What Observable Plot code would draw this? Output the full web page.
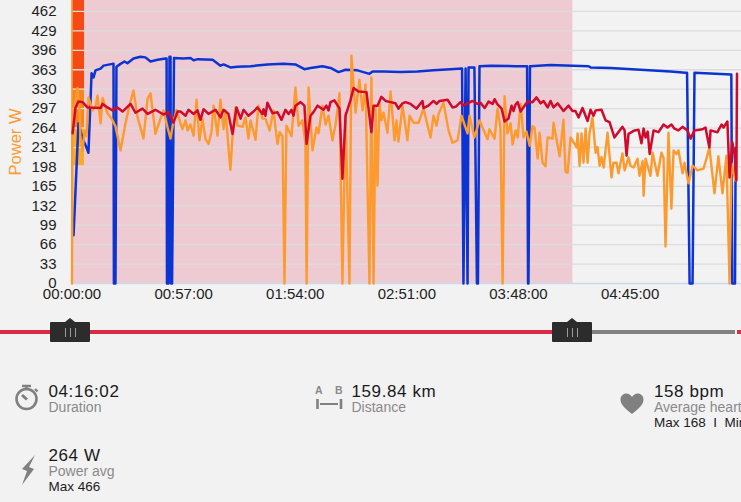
<!DOCTYPE html>
<html><head><meta charset="utf-8">
<script src="https://cdn.jsdelivr.net/npm/d3@7"></script>
<script src="https://cdn.jsdelivr.net/npm/@observablehq/plot@0.6"></script>
<style>
html,body{margin:0;padding:0;background:#f2f2f2;width:741px;height:502px;overflow:hidden;font-family:"Liberation Sans",sans-serif}
#chart{position:absolute;left:0;top:0}
#chart svg{background:transparent;display:block}
.bar{position:absolute;height:4px;top:329.5px}
.handle{position:absolute;top:322px;width:40px;height:20px;background:#2c2c2c;border-radius:1px}
.handle:before{content:"";position:absolute;left:15px;top:-4px;border-left:5px solid transparent;border-right:5px solid transparent;border-bottom:4px solid #2c2c2c}
.handle i{position:absolute;top:6px;width:1.4px;height:9px;background:#9a9a9a}
.stat{position:absolute;white-space:nowrap}
.big{position:absolute;left:0;top:0;font-size:17px;letter-spacing:.6px;color:#1a1a1a;line-height:20px}
.sub{position:absolute;left:0;top:17px;font-size:14px;color:#8a8a8a;line-height:17px}
.extra{position:absolute;left:0;top:33px;font-size:13.5px;color:#1c1c1c;line-height:16px}
.icon{position:absolute}
</style></head><body>
<div id="chart"></div>
<div class="bar" style="left:0;width:552px;background:#dc2a45"></div>
<div class="bar" style="left:592px;width:143px;background:#828282"></div>
<div class="bar" style="left:737px;width:4px;background:#dc2a45"></div>
<div class="handle" style="left:50px"><i style="left:15px"></i><i style="left:20px"></i><i style="left:25px"></i></div>
<div class="handle" style="left:552px"><i style="left:15px"></i><i style="left:20px"></i><i style="left:25px"></i></div>

<svg class="icon" style="left:14px;top:382px" width="26" height="30" viewBox="0 0 26 30"><g fill="none" stroke="#808080"><circle cx="12.5" cy="17" r="10" stroke-width="2.6"/><path d="M8 4h9M12.5 4v3M21 7l2.5 2.5" stroke-width="2.4"/><path d="M8 13l5 4.5" stroke-width="3"/></g></svg>
<div class="stat" style="left:48.5px;top:382px;width:200px"><div class="big">04:16:02</div><div class="sub">Duration</div></div>

<svg class="icon" style="left:20px;top:454px" width="18" height="32" viewBox="0 0 18 32"><path d="M15 1L2 15l5 2-5 14 12-16-5-2z" fill="#808080"/></svg>
<div class="stat" style="left:48.5px;top:446px;width:200px"><div class="big">264 W</div><div class="sub">Power avg</div><div class="extra">Max 466</div></div>

<svg class="icon" style="left:314px;top:384px" width="30" height="28" viewBox="0 0 30 28"><g fill="#8a8a8a" font-family="Liberation Sans" font-size="10.5" font-weight="bold"><text x="1" y="10">A</text><text x="21" y="10">B</text></g><path d="M3.5 15v10M27 15v10" stroke="#808080" stroke-width="2.6"/><path d="M6 20h18" stroke="#808080" stroke-width="2"/></svg>
<div class="stat" style="left:351.5px;top:382px;width:200px"><div class="big">159.84 km</div><div class="sub">Distance</div></div>

<svg class="icon" style="left:620px;top:393px" width="24" height="22" viewBox="0 0 24 22"><path d="M12 21C6 16 0.5 12 0.5 6.5 0.5 3 3.2 0.5 6.3 0.5 8.6 0.5 10.8 1.8 12 4 13.2 1.8 15.4 0.5 17.7 0.5 20.8 0.5 23.5 3 23.5 6.5 23.5 12 18 16 12 21z" fill="#808080"/></svg>
<div class="stat" style="left:654px;top:382px;width:200px"><div class="big">158 bpm</div><div class="sub">Average heart rate</div><div class="extra">Max 168&nbsp; I&nbsp; Min</div></div>

<script>
const yTicks = [0,33,66,99,132,165,198,231,264,297,330,363,396,429,462];
const xTicks = [0,57,114,171,228,285];
const xTickLabels = ["00:00:00","00:57:00","01:54:00","02:51:00","03:48:00","04:45:00"];
const xMax = 341.9, yMax = 480.6;
const sessionEnd = 255.8;
const blockStart = 0.2, blockEnd = 6.4;
const blockFrom = [200,264,330];
const blockTo = [264,330,481];
const blockColors = ["#f9ab2f","#f6861f","#f54a14"];

// [minutes, watts]
const speed = [[0.8,82],[3.3,272],[5.4,246],[6.9,235],[8.4,222],[10,357],[11,350],[12,362],[14.6,365],[16.1,370],[20.7,373],[21.2,373],[21.4,0],[22.2,0],[22.7,368],[24.8,373],[26.8,377],[28.3,374],[31.4,382],[35,385],[37.5,384],[40.1,377],[43.7,380],[47.8,382],[48.3,382],[48.5,0],[49.3,0],[49.8,385],[50.3,385],[50.6,0],[51.1,0],[52.1,383],[56.9,382],[60.5,383],[62.1,379],[64.1,381],[71.8,380],[75.8,370],[77.4,372],[80.9,367],[84.5,368],[91.2,369],[99.8,372],[108,373],[114.1,372],[118.7,364],[121.8,366],[127.9,369],[132,366],[136.1,359],[139.7,363],[145.8,362],[151.9,356],[153.5,360],[159.1,360],[167.8,359],[176.4,360],[184.6,362],[193.3,364],[199.2,365],[199.9,0],[201,365],[202,0],[202.5,367],[205.5,367],[206.8,0],[207.3,0],[208.1,369],[213.7,370],[226.5,369],[232.4,369],[232.9,0],[233.1,0],[233.9,369],[244.4,371],[255.6,370],[263.8,369],[264.8,367],[275,366],[290.3,363],[305.6,360],[313.3,358],[314.1,358],[315.4,0],[316.9,0],[317.9,358],[336.7,355],[337.2,0],[338.6,0],[338.9,230]];

const power = [[0,0],[0.2,270],[1.3,300],[2.8,332],[3.8,300],[4.3,250],[5.4,225],[6.4,260],[7.4,250],[8.4,316],[10.5,294],[12,300],[13,319],[14.6,272],[15.6,315],[18.1,289],[20.2,280],[22.2,267],[24.8,226],[27.3,272],[29.9,310],[31.4,328],[33.5,282],[36.5,246],[38.6,314],[40.1,323],[42.6,254],[44.7,275],[46.7,294],[48.8,265],[50.3,246],[51.8,275],[53.4,295],[55.4,272],[56.4,262],[58,277],[59,260],[60.5,270],[62.1,251],[63.6,312],[65.1,243],[66.6,280],[68.2,245],[69.7,237],[71.2,257],[72.3,302],[74.3,251],[75.8,312],[77.4,262],[78.4,294],[79.9,231],[80.9,193],[82,251],[83.5,299],[84.5,268],[87.1,266],[88.6,282],[90.1,246],[91.2,277],[93.7,244],[95.2,302],[97.3,280],[98.8,280],[100.9,260],[102.9,294],[104.9,237],[106,257],[107.5,250],[108.5,0],[109.5,268],[112.1,250],[114.1,333],[115.7,268],[117.7,277],[119.2,237],[119.8,0],[120.8,333],[122.8,226],[124.9,265],[125.9,255],[127.9,302],[129.5,270],[131,285],[133,243],[134.6,270],[136.6,323],[138.1,0],[139.7,289],[141.7,0],[142.7,387],[144.8,290],[146.8,346],[148.4,294],[149.9,338],[151.9,0],[152.9,350],[154,0],[155,300],[156,166],[157,307],[158,277],[159.1,290],[161.1,256],[162.7,326],[164.7,243],[165.7,277],[166.7,241],[168.8,302],[171.3,243],[172.4,285],[174.4,273],[177,273],[179.5,297],[183.1,248],[184.6,285],[186.2,268],[187.2,288],[189.7,307],[192.3,260],[194.3,239],[196.9,243],[198.9,285],[202,255],[203,285],[205.5,248],[208.1,277],[212.2,245],[213.2,262],[215.8,246],[217.3,297],[218.8,265],[219.9,0],[220.9,318],[222.4,255],[224,272],[225,236],[226.5,260],[227.6,248],[229.1,305],[230.6,248],[232.1,258],[233.7,234],[235.2,267],[236.2,265],[237.8,212],[238.8,256],[240.3,205],[241.8,199],[242.9,248],[245.4,246],[245.9,273],[249,216],[251,278],[252,190],[253.1,188],[254.6,248],[256.1,240],[257.7,231],[258.2,255],[259.2,200],[260.2,255],[261.2,205],[262.3,263],[263.3,205],[264.3,255],[265.8,282],[267.4,222],[268.4,232],[269.4,200],[270.4,215],[271.5,197],[273.5,256],[275.5,180],[276.5,205],[278.1,205],[279.1,187],[281.1,221],[282.2,192],[284.2,214],[285.2,200],[286.8,197],[288.8,212],[289.8,183],[291.4,208],[291.9,149],[292.9,212],[295.4,183],[296.5,222],[299,183],[301,222],[302.1,213],[303.1,63],[304.6,256],[306.1,127],[307.2,226],[308.7,220],[309.7,226],[311.8,187],[312.8,205],[314.8,170],[316.9,200],[319.4,192],[322.5,195],[324,212],[325.5,231],[328.1,153],[330.1,216],[332.2,153],[334.2,217],[335.8,0],[336.8,204],[338.8,175]];

const heartRate = [[0.3,255],[1.8,299],[3.3,309],[5.4,308],[7.9,299],[14.6,298],[15.6,305],[18.1,299],[20.7,294],[23.2,299],[25.8,292],[29.9,305],[32.4,290],[36,297],[38.6,288],[42.6,295],[46.7,287],[49.3,291],[51.8,273],[53.9,292],[55.4,292],[58,285],[59.5,295],[62.1,288],[64.1,294],[65.6,278],[67.2,296],[69.7,288],[73.3,295],[75.8,282],[77.4,295],[79.9,288],[82,254],[84,299],[86.1,280],[87.6,295],[90.1,285],[92.7,292],[94.7,299],[97.3,288],[97.8,296],[98.8,285],[99.8,307],[102.4,289],[104.9,291],[107,278],[109,295],[110.6,288],[112.1,295],[113.1,285],[114.1,302],[116.7,308],[118.7,302],[119.8,237],[121.8,285],[123.3,291],[125.4,302],[128.4,295],[129.9,302],[131,294],[132,308],[134,311],[136.6,297],[138.1,178],[139.7,285],[142.2,311],[143.8,332],[146.3,326],[150.4,325],[152.9,257],[154,302],[156,302],[158,317],[160.1,310],[162.7,308],[165.2,306],[166.7,297],[168.8,306],[170.3,308],[172.9,305],[175.9,297],[179,310],[179.5,298],[182,302],[184.6,310],[186.2,305],[187.7,310],[191.8,312],[194.3,299],[195.9,300],[198.4,308],[199.9,302],[204.5,310],[207.1,305],[208.6,307],[210.7,298],[212.7,309],[214.8,305],[215.8,313],[217.3,304],[219.4,297],[220.9,275],[222.9,280],[224.5,302],[225.5,293],[226.5,304],[227.6,308],[229.1,292],[232.6,309],[235.2,308],[237.2,316],[239.3,306],[240.8,310],[242.9,299],[244.4,310],[245.9,299],[248,306],[251,293],[253.6,302],[255.6,293],[257.1,293],[258.7,282],[260.7,298],[263.3,276],[264.8,295],[266.3,285],[267.4,294],[270.4,295],[272.5,277],[274.5,274],[277,248],[281.1,266],[282.2,260],[283.2,217],[284.2,254],[287.3,260],[289.3,261],[290.8,238],[291.9,263],[292.9,248],[294,258],[295,220],[297,260],[299.5,257],[302.1,270],[304.1,265],[306.1,270],[307.7,263],[309.7,260],[311.8,266],[314.3,260],[315.9,246],[317.9,260],[322,262],[323.5,265],[325.5,231],[326.1,260],[329.6,257],[331.7,270],[332.7,265],[334.7,275],[335.8,180],[337.2,240],[338.3,220],[339.3,175],[339.6,356]];

const lineOpts = {x:d=>d[0], y:d=>d[1], strokeLinejoin:"round", curve:"linear"};

const plot = Plot.plot({
  width:741, height:312,
  marginLeft:71.5, marginRight:0, marginTop:0, marginBottom:29,
  style:{background:"transparent", fontFamily:"Liberation Sans, sans-serif", overflow:"hidden"},
  x:{domain:[0,xMax], label:null},
  y:{domain:[0,yMax], label:null},
  marks:[
    Plot.rect([sessionEnd],{x1:0,x2:d=>d,y1:0,y2:yMax,fill:"#eecbd2"}),
    Plot.rect(blockFrom,{x1:blockStart,x2:blockEnd,y1:d=>d,y2:(d,i)=>blockTo[i],fill:(d,i)=>blockColors[i]}),
    Plot.ruleY(yTicks.slice(1),{stroke:"#dcdcdc",strokeWidth:1.3}),
    Plot.ruleY([0],{stroke:"#c9d9ea",strokeWidth:1.3}),
    Plot.ruleX([0],{stroke:"#fb9c34",strokeWidth:1.6}),
    Plot.line(speed,{...lineOpts,stroke:"#0b34d2",strokeWidth:2.5}),
    Plot.line(power,{...lineOpts,stroke:"#fd9a2e",strokeWidth:2.4}),
    Plot.line(heartRate,{...lineOpts,stroke:"#d10a2c",strokeWidth:2.5}),
    Plot.axisY({ticks:yTicks,tickSize:0,tickPadding:15.5,label:null,fontSize:15,tickFormat:d=>d,color:"#222"}),
    Plot.axisX({ticks:xTicks,tickSize:0,tickPadding:5,label:null,fontSize:15,tickFormat:(d,i)=>xTickLabels[i],color:"#222",style:{letterSpacing:"0.3px"}}),
    Plot.text(["Power W"],{frameAnchor:"left",dx:-56,rotate:-90,textAnchor:"middle",fill:"#fb9c34",fontSize:16.5})
  ]
});
document.getElementById("chart").appendChild(plot);
</script>
</body></html>
